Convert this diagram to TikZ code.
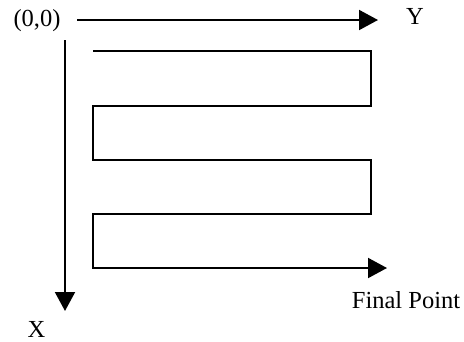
\documentclass[tikz,border=0pt]{standalone}
\usepackage{fontspec}
\setmainfont{Liberation Serif}
\usetikzlibrary{arrows.meta}
\begin{document}
\begin{tikzpicture}[x=1pt,y=-1pt,
  line/.style={line width=2pt,line join=miter},
  arr/.style={line,-{Triangle[length=19pt,width=20pt]}},
  lbl/.style={font=\fontsize{24.5}{26}\selectfont,inner sep=0pt}]
\useasboundingbox (0,0) rectangle (464,341);
\node[lbl] (origin) at (37,21) {(0,0)};
\node[lbl] (ylab) at (415,16) {Y};
\node[lbl] (xlab) at (36.5,329) {X};
\node[lbl] (final) at (406,300) {Final Point};
\coordinate (ya) at (77,20);
\coordinate (yb) at (378,20);
\coordinate (xa) at (65,40);
\coordinate (xb) at (65,311);
\draw[arr] (ya) -- (yb);
\draw[arr] (xa) -- (xb);
\coordinate (p1) at (93,51);
\coordinate (p2) at (371,51);
\coordinate (p3) at (371,106);
\coordinate (p4) at (93,106);
\coordinate (p5) at (93,160);
\coordinate (p6) at (371,160);
\coordinate (p7) at (371,214);
\coordinate (p8) at (93,214);
\coordinate (p9) at (93,268);
\coordinate (p10) at (387,268);
\draw[arr] (p1) -- (p2) -- (p3) -- (p4) -- (p5) -- (p6) -- (p7) -- (p8) -- (p9) -- (p10);
\end{tikzpicture}
\end{document}
